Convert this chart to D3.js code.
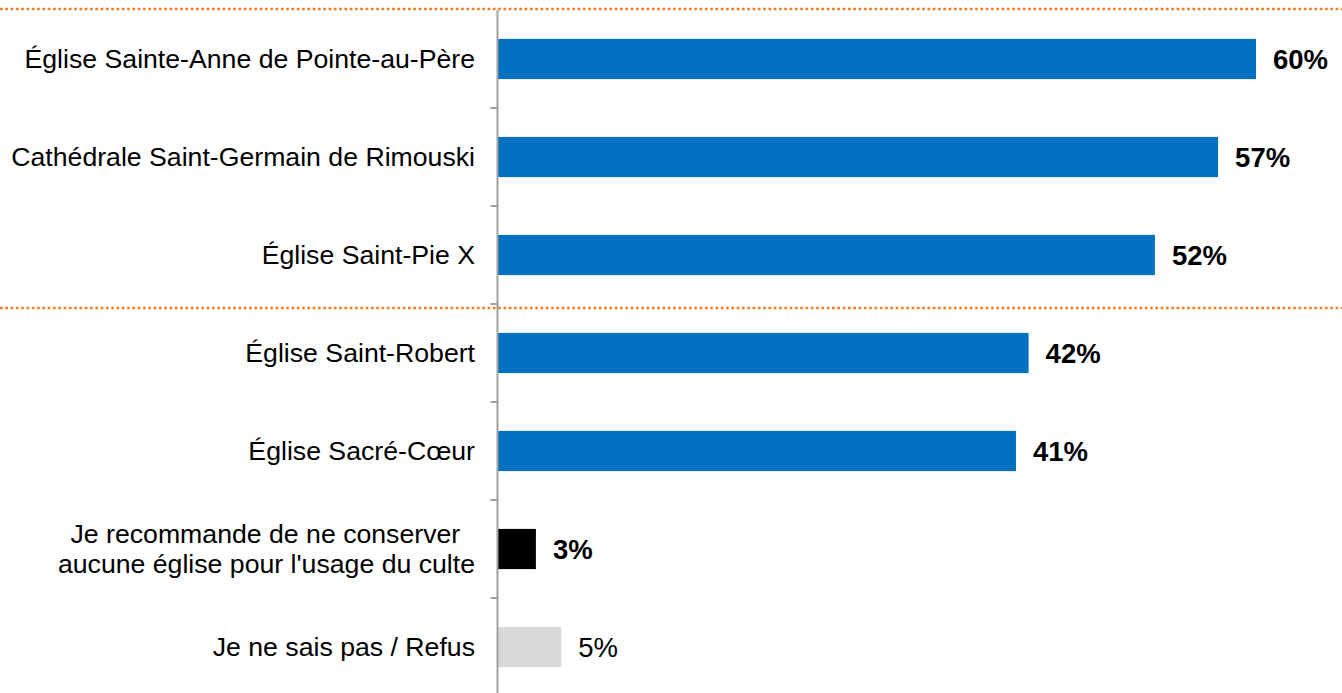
<!DOCTYPE html>
<html><head><meta charset="utf-8">
<script src="https://cdn.jsdelivr.net/npm/d3@7"></script>
<style>html,body{margin:0;padding:0;background:#fff;}svg{display:block;}text{font-family:"Liberation Sans",Arial,sans-serif;}</style>
</head><body>
<svg id="chart" width="1342" height="693"></svg>
<script>
const categories = [
  "Église Sainte-Anne de Pointe-au-Père",
  "Cathédrale Saint-Germain de Rimouski",
  "Église Saint-Pie X",
  "Église Saint-Robert",
  "Église Sacré-Cœur",
  "Je recommande de ne conserver  \naucune église pour l'usage du culte",
  "Je ne sais pas / Refus"
];
const values = [60, 57, 52, 42, 41, 3, 5];
const barColors = ["#0070C0","#0070C0","#0070C0","#0070C0","#0070C0","#000000","#D9D9D9"];
const labelBold = [true,true,true,true,true,true,false];
const valueLabels = values.map(v => v + "%");

const W = 1342, H = 693;
const svg = d3.select("#chart");
const x0 = 498;
const x = d3.scaleLinear().domain([0, 60]).range([x0, 1256]);
const y = d3.scaleBand().domain(categories).range([10, 696]).paddingInner(0.59).paddingOuter(0.295);

// bars
svg.selectAll("rect.bar").data(categories).enter().append("rect")
  .attr("x", x(0)).attr("y", d => y(d))
  .attr("width", (d,i) => x(values[i]) - x(0))
  .attr("height", y.bandwidth())
  .attr("fill", (d,i) => barColors[i]);

// value labels
svg.selectAll("text.val").data(categories).enter().append("text")
  .attr("x", (d,i) => x(values[i]) + 17)
  .attr("y", d => y(d) + y.bandwidth()/2)
  .attr("dy", "0.36em")
  .attr("font-size", "27.5px")
  .attr("font-weight", (d,i) => labelBold[i] ? "bold" : "normal")
  .attr("fill", "#000")
  .text((d,i) => valueLabels[i]);

// axis
const step = y.step();
const gAxis = svg.append("g").attr("transform", `translate(${x0-0.5},0)`);
gAxis.append("line").attr("x1",0).attr("x2",0).attr("y1",10).attr("y2",H).attr("stroke","#A0A0A0").attr("stroke-width",2);
const bounds = d3.range(1, categories.length).map(i => 10 + i*step);
gAxis.selectAll("line.tick").data(bounds).enter().append("line")
  .attr("x1", -7).attr("x2", 0).attr("y1", d => d).attr("y2", d => d)
  .attr("stroke", "#A0A0A0").attr("stroke-width", 2);

// category labels
categories.forEach(c => {
  const lines = c.split("\n");
  const cy = y(c) + y.bandwidth()/2;
  const lh = 30;
  const t = svg.append("text")
    .attr("text-anchor", "end")
    .attr("font-size", "26.67px")
    .attr("fill", "#000")
    .style("white-space", "pre");
  lines.forEach((ln, k) => {
    t.append("tspan")
      .attr("x", 475)
      .attr("y", cy + (k - (lines.length-1)/2)*lh)
      .attr("dy", "0.35em")
      .text(ln);
  });
});

// orange dotted separators
const seps = [9, 10 + 3*step + 4];
svg.selectAll("line.sep").data(seps).enter().append("line")
  .attr("x1", 0).attr("x2", W).attr("y1", d => d).attr("y2", d => d)
  .attr("stroke", "#F47A20").attr("stroke-width", 2.6)
  .attr("stroke-dasharray", "2.6,2.7");
</script>
</body></html>
